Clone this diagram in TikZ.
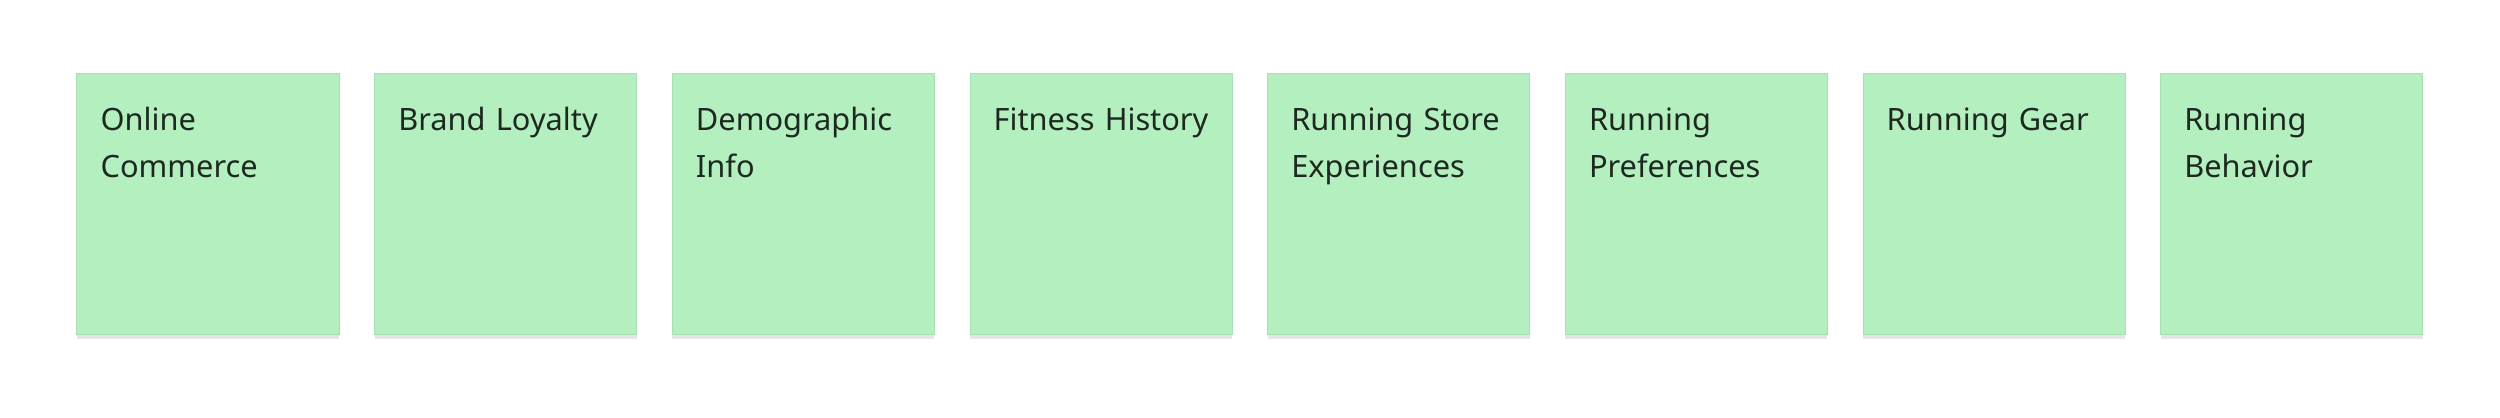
\documentclass[tikz,border=0pt]{standalone}
\usepackage{fontspec}
\setmainfont{Noto Sans}
\usetikzlibrary{positioning,shadows}
\definecolor{cardgreen}{RGB}{179,239,191}
\definecolor{cardedge}{RGB}{170,222,180}
\definecolor{cardink}{RGB}{30,40,32}
\tikzset{>=latex}

\begin{document}
\begin{tikzpicture}[x=0.01cm,y=0.01cm,
  card/.style={fill=cardgreen,draw=cardedge,line width=0.25pt,minimum width=2.62cm,minimum height=2.61cm,inner sep=0pt,outer sep=0pt,
    drop shadow={shadow xshift=0pt,shadow yshift=-1.2pt,opacity=0.10,fill=black}},
  cardtext/.style={anchor=base west,inner sep=0pt,text width=2.2cm,align=left,text=cardink,font=\fontsize{8.75pt}{13.3pt}\selectfont}]
\useasboundingbox (0,0) rectangle (2500,-417);
\node[card] (onl) at (208,-204) {};
\node[card,right=0.355cm of onl] (brand) {};
\node[card,right=0.355cm of brand] (demo) {};
\node[card,right=0.355cm of demo] (fit) {};
\node[card,right=0.355cm of fit] (store) {};
\node[card,right=0.355cm of store] (pref) {};
\node[card,right=0.355cm of pref] (gear) {};
\node[card,right=0.355cm of gear] (behav) {};
% labels
\node[cardtext] (onl-t) at ([shift={(23,-57)}]onl.north west) {Online\\Commerce};
\node[cardtext] (brand-t) at ([shift={(23,-57)}]brand.north west) {Brand Loyalty};
\node[cardtext] (demo-t) at ([shift={(23,-57)}]demo.north west) {Demographic\\Info};
\node[cardtext] (fit-t) at ([shift={(23,-57)}]fit.north west) {Fitness History};
\node[cardtext] (store-t) at ([shift={(23,-57)}]store.north west) {Running Store\\Experiences};
\node[cardtext] (pref-t) at ([shift={(23,-57)}]pref.north west) {Running\\Preferences};
\node[cardtext] (gear-t) at ([shift={(23,-57)}]gear.north west) {Running Gear};
\node[cardtext] (behav-t) at ([shift={(23,-57)}]behav.north west) {Running\\Behavior};
\end{tikzpicture}
\end{document}
